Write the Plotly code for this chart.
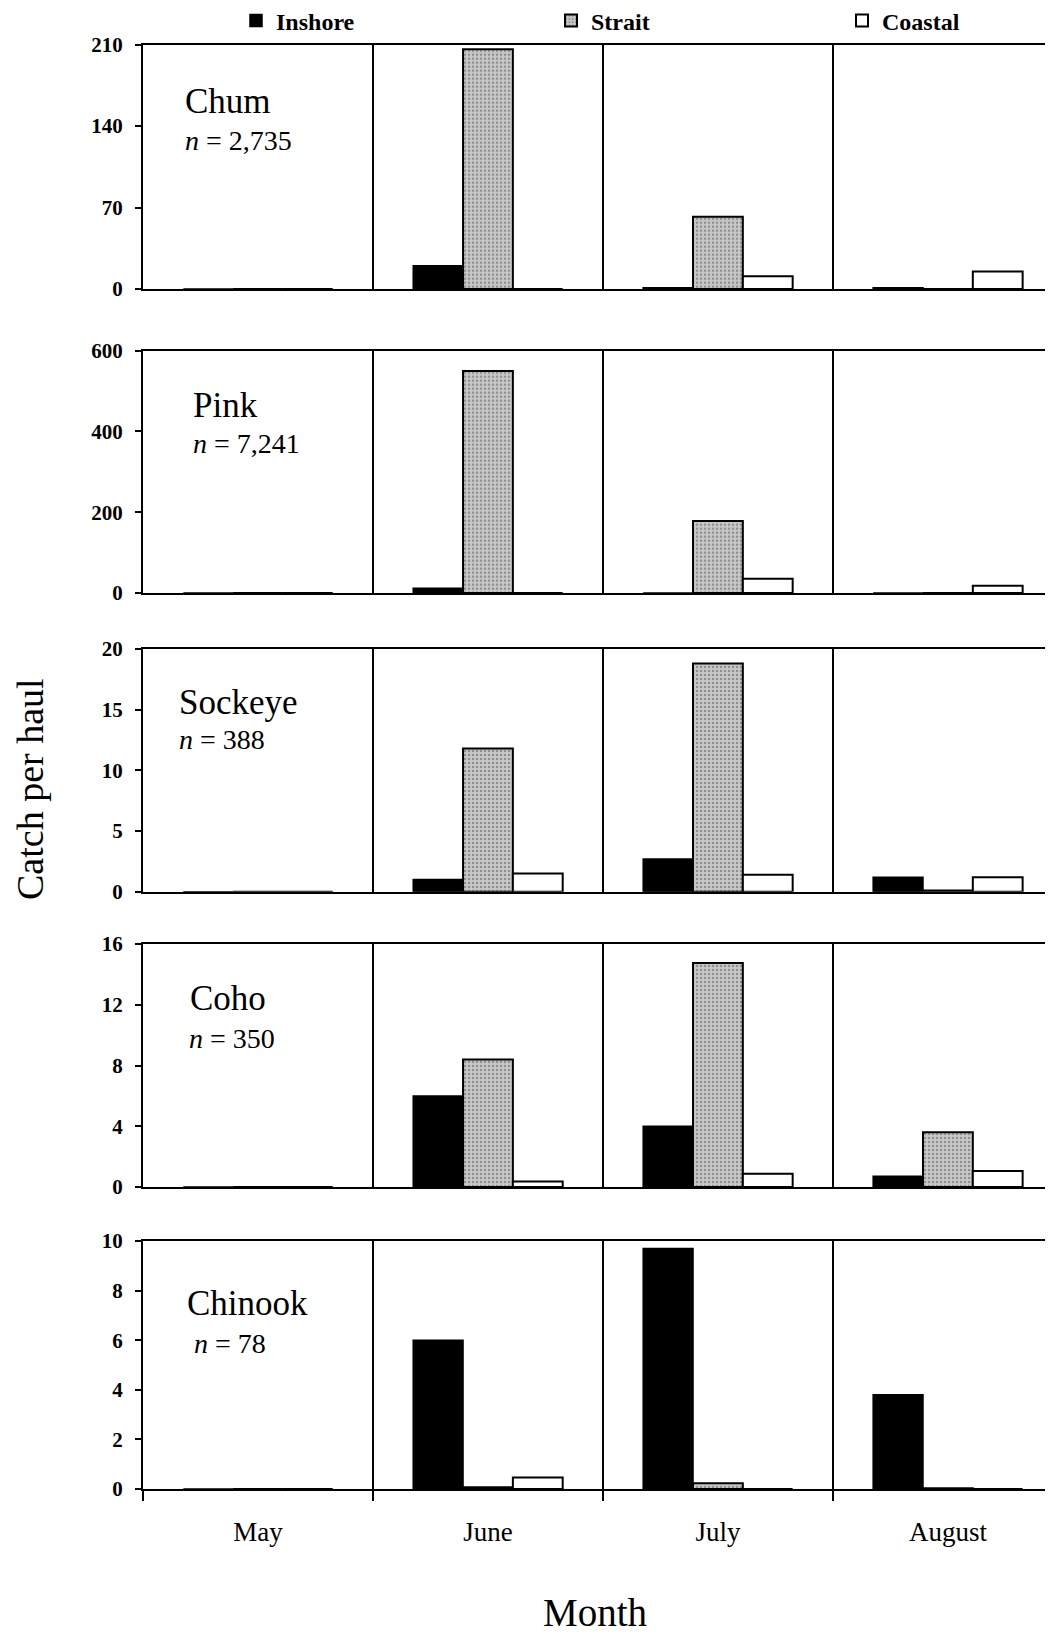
import plotly.graph_objects as go
from plotly.subplots import make_subplots

# ---------------- data ----------------
months = ["May", "June", "July", "August"]
series_names = ["Inshore", "Strait", "Coastal"]
species = ["Chum", "Pink", "Sockeye", "Coho", "Chinook"]
n_labels = ["2,735", "7,241", "388", "350", "78"]

chum_inshore = [0, 20, 1, 1]
chum_strait = [0, 206, 62, 0]
chum_coastal = [0, 0, 11, 15]

pink_inshore = [0, 12, 0, 0]
pink_strait = [0, 550, 178, 0]
pink_coastal = [0, 0, 35, 18]

sockeye_inshore = [0, 1.0, 2.7, 1.2]
sockeye_strait = [0, 11.8, 18.8, 0.1]
sockeye_coastal = [0, 1.5, 1.4, 1.2]

coho_inshore = [0, 6.0, 4.0, 0.7]
coho_strait = [0, 8.4, 14.75, 3.6]
coho_coastal = [0, 0.37, 0.88, 1.05]

chinook_inshore = [0, 6.0, 9.7, 3.8]
chinook_strait = [0, 0.07, 0.23, 0.03]
chinook_coastal = [0, 0.46, 0, 0]

y_max = [210, 600, 20, 16, 10]
y_ticks = [[0, 70, 140, 210], [0, 200, 400, 600], [0, 5, 10, 15, 20],
           [0, 4, 8, 12, 16], [0, 2, 4, 6, 8, 10]]

panel_values = [
    (chum_inshore, chum_strait, chum_coastal),
    (pink_inshore, pink_strait, pink_coastal),
    (sockeye_inshore, sockeye_strait, sockeye_coastal),
    (coho_inshore, coho_strait, coho_coastal),
    (chinook_inshore, chinook_strait, chinook_coastal),
]

# ---------------- layout geometry (page pixels) ----------------
PAGE_W, PAGE_H = 1053, 1640
OFF = 8                       # default body margin of the html page
W, H = PAGE_W - OFF, PAGE_H - OFF
L_PAGE = 143
L = L_PAGE - OFF
panel_px = [(44.7, 289), (350.7, 593), (649, 891.7), (944, 1187), (1241, 1489)]
label_px = [((183, 101), (183, 140)), ((191, 405), (191, 443)),
            ((177, 702), (177, 740)), ((188, 999), (187, 1038)),
            ((185, 1303), (192, 1343))]
legend_px = [236, 551, 842]


def px_x(x):
    return (x - L_PAGE) / (W - L)


def px_y(y):
    return 1 - (y - OFF) / H


serif = "Liberation Serif, Times New Roman, serif"

fig = make_subplots(rows=5, cols=1)

styles = [
    dict(color="black", line=dict(color="black", width=1.5)),
    dict(color="#c0c0c0", line=dict(color="black", width=2),
         pattern=dict(shape=".", fgcolor="#555555", bgcolor="#c8c8c8", size=4, solidity=0.3)),
    dict(color="white", line=dict(color="black", width=2)),
]
legend_ids = ["legend", "legend2", "legend3"]

for i, vals in enumerate(panel_values):
    for j, name in enumerate(series_names):
        fig.add_trace(
            go.Bar(x=months, y=vals[j], name=name, marker=styles[j],
                   legendgroup=name, legend=legend_ids[j], showlegend=(i == 0)),
            row=i + 1, col=1,
        )

for i in range(5):
    top, bot = panel_px[i]
    ax = "xaxis" if i == 0 else f"xaxis{i+1}"
    ay = "yaxis" if i == 0 else f"yaxis{i+1}"
    last = (i == 4)
    fig.layout[ay].update(
        domain=[px_y(bot), px_y(top)],
        range=[0, y_max[i]], tickvals=y_ticks[i],
        showline=True, linecolor="black", linewidth=2,
        ticks="outside", ticklen=6, tickwidth=1.5, tickcolor="black",
        ticklabelstandoff=8,
        showgrid=False, zeroline=False,
        tickfont=dict(family=serif, size=21, color="black", weight="bold"),
    )
    fig.layout[ax].update(
        type="category", categoryorder="array", categoryarray=months,
        range=[-0.5, 3.457],
        tickson="boundaries", showgrid=True, gridcolor="black", gridwidth=1.5,
        showline=True, linecolor="black", linewidth=2, mirror=True,
        ticks="outside" if last else "", ticklen=10, tickwidth=1.5, tickcolor="black",
        showticklabels=last, ticklabelstandoff=18,
        tickfont=dict(family=serif, size=27, color="black"),
    )

annotations = []
for i in range(5):
    (sx, sy), (nx, ny) = label_px[i]
    annotations.append(dict(
        text=species[i], xref="paper", yref="paper", x=px_x(sx), y=px_y(sy),
        xanchor="left", yanchor="middle", showarrow=False,
        font=dict(family=serif, size=35, color="black")))
    annotations.append(dict(
        text=f"<i>n</i> = {n_labels[i]}", xref="paper", yref="paper",
        x=px_x(nx), y=px_y(ny), xanchor="left", yanchor="middle", showarrow=False,
        font=dict(family=serif, size=28, color="black")))

annotations.append(dict(
    text="Catch per haul", xref="paper", yref="paper", x=px_x(30), y=px_y(789),
    xanchor="center", yanchor="middle", textangle=-90, showarrow=False,
    font=dict(family=serif, size=38, color="black")))
annotations.append(dict(
    text="Month", xref="paper", yref="paper", x=px_x(595), y=px_y(1612),
    xanchor="center", yanchor="middle", showarrow=False,
    font=dict(family=serif, size=39, color="black")))

legend_common = dict(orientation="h", y=px_y(21), xanchor="left", yanchor="middle",
                     font=dict(family=serif, size=24, color="black", weight="bold"),
                     bgcolor="rgba(0,0,0,0)")

fig.update_layout(
    width=W, height=H,
    margin=dict(l=L, r=0, t=0, b=0, autoexpand=False),
    paper_bgcolor="white", plot_bgcolor="white",
    barmode="group", bargap=0.35, bargroupgap=0,
    annotations=annotations,
    legend=dict(x=px_x(legend_px[0]), **legend_common),
    legend2=dict(x=px_x(legend_px[1]), **legend_common),
    legend3=dict(x=px_x(legend_px[2]), **legend_common),
)

fig.write_html("out.html")
